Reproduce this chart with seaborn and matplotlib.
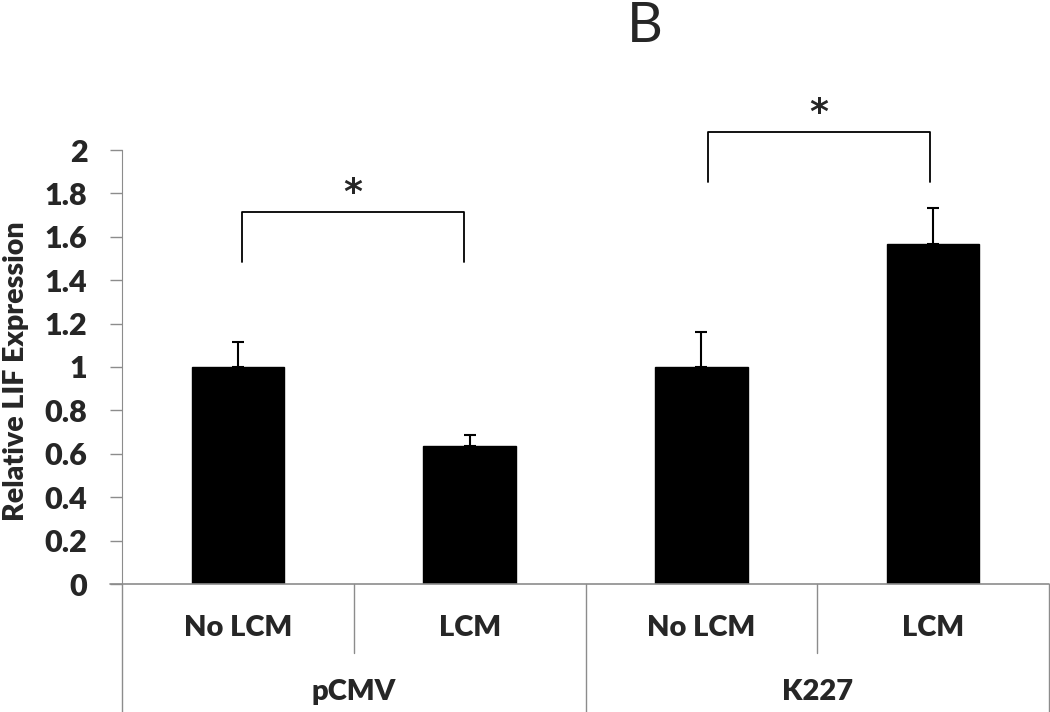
import matplotlib
matplotlib.use("Agg")
import matplotlib.pyplot as plt
import seaborn as sns
import pandas as pd
import numpy as np

groups = ["pCMV", "pCMV", "K227", "K227"]
conditions = ["No LCM", "LCM", "No LCM", "LCM"]
values = [1.00, 0.637, 1.00, 1.567]
errors = [0.115, 0.051, 0.16, 0.166]
yticks = [0, 0.2, 0.4, 0.6, 0.8, 1, 1.2, 1.4, 1.6, 1.8, 2]
ytick_labels = ["0", "0.2", "0.4", "0.6", "0.8", "1", "1.2", "1.4", "1.6", "1.8", "2"]

sns.set_style("white")
plt.rcParams['font.family'] = ['Lato', 'DejaVu Sans']

keys = [f"{g} {c}" for g, c in zip(groups, conditions)]
df = pd.DataFrame({"key": keys, "value": values})

fig = plt.figure(figsize=(10.5, 7.12), dpi=100)
ax = fig.add_axes([122/1050, (712-584)/712, (1049-122)/1050, (584-150)/712])

sns.barplot(data=df, x="key", y="value", order=keys, color="black",
            width=0.4, saturation=1, errorbar=None, ax=ax)
for p in ax.patches:
    p.set_edgecolor("black")

xs = np.arange(len(keys))
ax.errorbar(xs, values, yerr=[np.zeros(len(values)), errors], fmt="none",
            ecolor="black", elinewidth=1.5, capsize=4, capthick=1.5)

W = "heavy"
ax.set_xlim(-0.5, 3.5)
ax.set_ylim(0, 2)
ax.set_yticks(yticks)
ax.set_yticklabels(ytick_labels, fontsize=22, fontweight=W)
ax.set_xticks([])
ax.set_xlabel("")
ax.set_ylabel("Relative LIF Expression", fontsize=20.5, fontweight=W)
ax.yaxis.set_label_coords((16 - 122) / 927, 0.49)
ax.yaxis.label.set_va("center")

grey = "#8c8c8c"
for s in ["top", "right"]:
    ax.spines[s].set_visible(False)
ax.spines["left"].set_color(grey)
ax.spines["bottom"].set_visible(False)
ax.tick_params(axis="y", direction="out", length=9, width=1, color=grey, pad=16, left=True)

tr = ax.get_xaxis_transform()
# x axis line, extending slightly left
ax.plot([-0.5 - 12/232, 3.5], [0, 0], transform=tr, color=grey, lw=1.2, clip_on=False)
# inner separators
for x in [0.5, 2.5]:
    ax.plot([x, x], [0, -0.159], transform=tr, color=grey, lw=1, clip_on=False)
# group dividers
for x in [-0.5, 1.5, 3.5]:
    ax.plot([x, x], [0, -0.30], transform=tr, color=grey, lw=1, clip_on=False)
# category labels
for x, c in zip(xs, conditions):
    ax.text(x, -0.101, c, transform=tr, ha="center", va="center",
            fontsize=21, fontweight=W)
# group labels
ax.text(0.5, -0.249, "pCMV", transform=tr, ha="center", va="center", fontsize=21, fontweight=W)
ax.text(2.5, -0.249, "K227", transform=tr, ha="center", va="center", fontsize=21, fontweight=W)

# significance brackets
def bracket(x1, x2, ylow, yhigh, ystar):
    ax.plot([x1, x1, x2, x2], [ylow, yhigh, yhigh, ylow], color="black", lw=1.3, clip_on=False)
    ax.text((x1 + x2) / 2, ystar, "*", ha="center", va="center", fontsize=26,
            fontweight="bold", family=["DejaVu Sans"], clip_on=False)

bracket(0.017, 0.974, 1.484, 1.714, 1.80)
bracket(2.03, 2.986, 1.853, 2.083, 2.17)

fig.text(645/1050, 1 - 26/712, "B", ha="center", va="center", fontsize=40)

fig.savefig("out.png", dpi=100)
